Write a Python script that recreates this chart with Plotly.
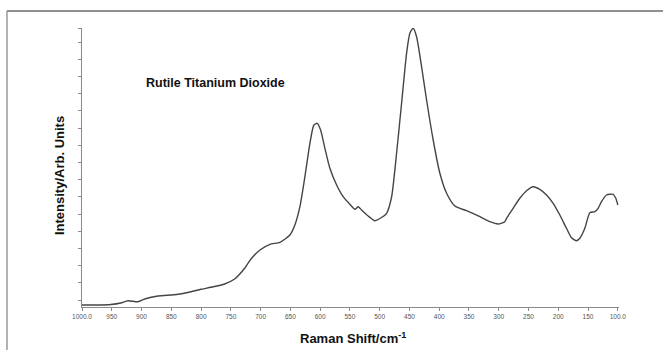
import plotly.graph_objects as go

# Raman shift (cm^-1) and intensity (arb. units)
shift = [1000, 978.7, 951.3, 935, 922.8, 906, 894.7, 872.4, 850.6, 838.8, 817, 800.2,
         783.4, 760.4, 743.6, 726.8, 721.3, 715.1, 701.1, 684.3, 667.5, 650.8, 642.4,
         634, 625.6, 617.2, 610.5, 604.9, 599.2, 592, 583.6, 572.3, 561.3, 550, 541.6,
         536.1, 530.4, 519.3, 508.1, 499.6, 488.4, 480, 471.6, 463.2, 454.8, 449.3,
         443.7, 438, 429.6, 421.2, 410.1, 398.9, 387.6, 373.7, 354.1, 331.7, 314.9,
         301, 289.7, 286.9, 275.8, 264.6, 253.3, 242.2, 231, 219.7, 208.6, 197.4,
         186.2, 177.8, 169.4, 163.8, 155.4, 147, 138.6, 133.1, 127.4, 119, 107.9,
         103.4, 100]
intensity = [2, 2, 2.5, 4, 6.3, 5.3, 8, 11, 12, 12.7, 15.3, 17.7,
             19.7, 23, 28, 38.7, 43.7, 48.7, 57, 62.7, 64.7, 72, 82,
             100.3, 130.3, 163.7, 182, 183.7, 177, 158.7, 138.7, 122, 110.3, 102.7, 97.7,
             100.3, 97, 91, 86.3, 88.5, 93.7, 110, 153.7, 203.7, 253.7, 273.7,
             278.7, 270.3, 240.3, 207, 167, 133.7, 113.7, 101, 96.3, 90.3, 85.3,
             83, 85.3, 88.7, 98.7, 108.7, 116.3, 120.3, 117.7, 112, 103.7, 92,
             78.7, 69.3, 66.3, 68.7, 78.7, 94.3, 95.3, 98.7, 105.3, 112, 112.7,
             108.7, 102]

x_tick_vals = [1000, 950, 900, 850, 800, 750, 700, 650, 600, 550, 500,
               450, 400, 350, 300, 250, 200, 150, 100]
x_tick_text = ["1000.0", "950", "900", "850", "800", "750", "700", "650", "600", "550", "500",
               "450", "400", "350", "300", "250", "200", "150", "100.0"]
y_tick_vals = [7 + 17.2 * k for k in range(16)] + [279]

FONT = "Liberation Sans, Arial, Helvetica, sans-serif"

fig = go.Figure()
fig.add_trace(go.Scatter(x=shift, y=intensity, mode="lines",
                         line=dict(color="#454545", width=1.4, shape="spline", smoothing=0.6),
                         showlegend=False))

fig.update_layout(
    width=663, height=350,
    margin=dict(l=82, r=44, t=28, b=43, autoexpand=False),
    paper_bgcolor="white", plot_bgcolor="white",
    font=dict(family=FONT, color="#111"),
    xaxis=dict(range=[1000, 98], tickvals=x_tick_vals, ticktext=x_tick_text,
               showgrid=False, zeroline=False, showline=True, linecolor="#8a8a8a",
               linewidth=1, ticks="outside", ticklen=3, tickcolor="#8a8a8a",
               automargin=False,
               tickfont=dict(size=6.5, color="#555", family=FONT)),
    yaxis=dict(range=[0, 279], tickvals=y_tick_vals, showticklabels=False,
               showgrid=False, zeroline=False, showline=True, linecolor="#8a8a8a",
               linewidth=1, ticks="outside", ticklen=3, tickcolor="#8a8a8a",
               automargin=False),
    annotations=[
        dict(text="<b>Rutile Titanium Dioxide</b>", xref="paper", yref="paper",
             x=0.2477, y=0.803, xanchor="center", yanchor="middle",
             showarrow=False, font=dict(size=12.5, color="#111", family=FONT)),
        dict(text="<b>Intensity/Arb. Units</b>", xref="paper", yref="paper",
             x=-0.0428, y=0.4695, xanchor="center", yanchor="middle", textangle=-90,
             showarrow=False, font=dict(size=13, color="#111", family=FONT)),
        dict(text="<b>Raman Shift/cm<sup>-1</sup></b>", xref="paper", yref="paper",
             x=0.505, y=-0.111, xanchor="center", yanchor="middle",
             showarrow=False, font=dict(size=13, color="#111", family=FONT)),
    ],
    shapes=[
        dict(type="line", xref="paper", yref="paper", x0=-0.1397, x1=1.09,
             y0=1.0609, y1=1.0609, line=dict(color="#222", width=1.2)),
        dict(type="line", xref="paper", yref="paper", x0=-0.1397, x1=-0.1397,
             y0=1.0609, y1=-0.16, line=dict(color="#999", width=1.5)),
    ],
)

fig.write_html("out.html")
